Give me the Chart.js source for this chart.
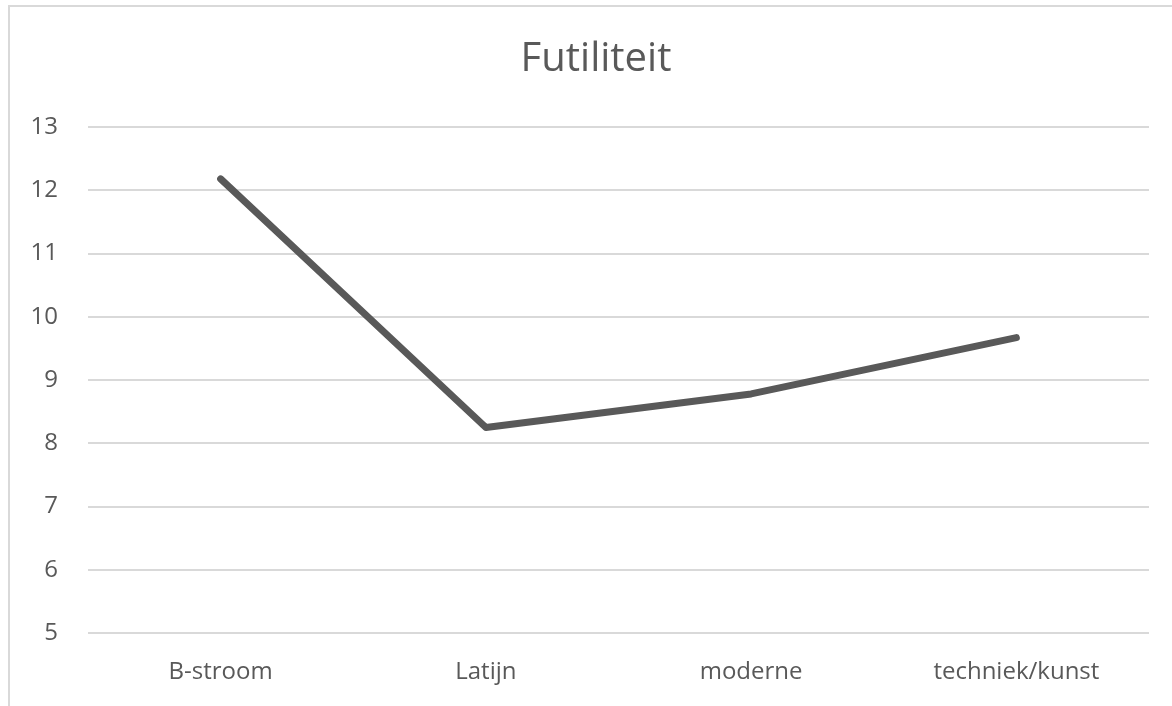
<!DOCTYPE html>
<html>
<head>
<meta charset="utf-8">
<script src="https://cdn.jsdelivr.net/npm/chart.js@4"></script>
<style>
  html, body { margin: 0; padding: 0; background: #fff; overflow: hidden; width: 1172px; height: 706px; }
  #frame { position: absolute; left: 8px; top: 5px; width: 1180px; height: 720px; border-left: 2px solid #d9d9d9; border-top: 2px solid #d9d9d9; }
  #wrap { position: absolute; left: 0; top: 0; width: 1192px; height: 706px; }
</style>
</head>
<body>
<div id="frame"></div>
<div id="wrap"><canvas id="futiliteit"></canvas></div>
<script>
var GREY_LINE = "#595959"
var GRID = "#d9d9d9"
var TEXT = "#595959"

var categories = ["B-stroom", "Latijn", "moderne", "techniek/kunst"]
var futiliteit = [12.18, 8.25, 8.78, 9.67]
var yTicks = [5, 6, 7, 8, 9, 10, 11, 12, 13]

var ctx = document.getElementById("futiliteit");
var lineChart = new Chart(ctx, {
  type: 'line',
  data: {
    labels: categories,
    datasets: [{
      data: futiliteit,
      borderColor: GREY_LINE,
      borderWidth: 7,
      borderCapStyle: 'round',
      borderJoinStyle: 'round',
      pointRadius: 0,
      tension: 0,
      fill: false
    }]
  },
  options: {
    responsive: true,
    maintainAspectRatio: false,
    animation: false,
    layout: { padding: { left: 0, right: 0, top: 0, bottom: 19 } },
    plugins: {
      legend: { display: false },
      tooltip: { enabled: false },
      title: {
        display: true,
        text: "Futiliteit",
        color: TEXT,
        font: { family: "Open Sans", size: 40, weight: 'normal' },
        padding: { top: 36, bottom: 43 }
      }
    },
    scales: {
      x: {
        offset: true,
        afterFit: function (scale) { scale.height = 54 },
        grid: { display: false, drawTicks: false },
        border: { display: false },
        ticks: { color: TEXT, font: { family: "Open Sans", size: 24 }, padding: 25, maxRotation: 0 }
      },
      y: {
        min: yTicks[0],
        max: yTicks[yTicks.length - 1],
        afterFit: function (scale) { scale.width = 88 },
        afterBuildTicks: function (scale) { scale.ticks = yTicks.map(function (v) { return { value: v } }) },
        grid: { color: GRID, lineWidth: 2, drawTicks: false },
        border: { display: false },
        ticks: { color: TEXT, font: { family: "Open Sans", size: 24 }, padding: 30, stepSize: 1 }
      },
      // empty right-hand axis, only keeps space so the title centres like the original
      yRight: {
        position: 'right',
        min: yTicks[0],
        max: yTicks[yTicks.length - 1],
        afterFit: function (scale) { scale.width = 43 },
        grid: { display: false, drawTicks: false },
        border: { display: false },
        ticks: { display: false }
      }
    }
  }
})
</script>
</body>
</html>
